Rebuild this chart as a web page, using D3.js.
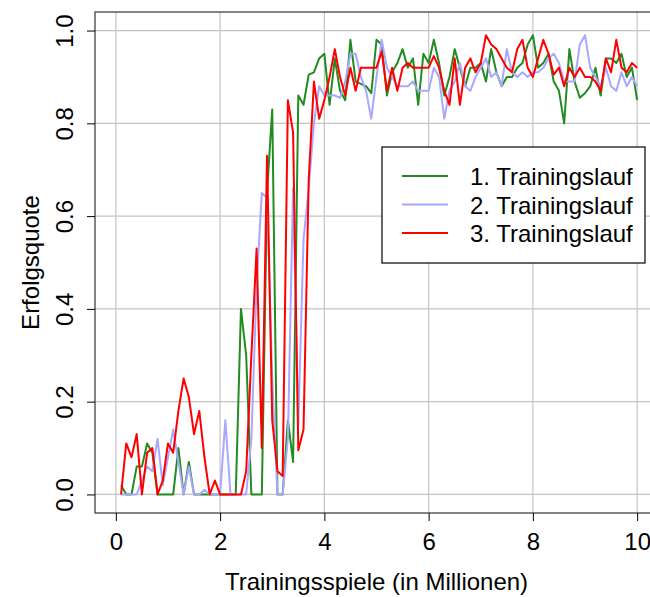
<!DOCTYPE html>
<html>
<head>
<meta charset="utf-8">
<script src="https://cdn.jsdelivr.net/npm/d3@7"></script>
<style>
  html, body { margin: 0; padding: 0; background: #fff; }
  svg { display: block; font-family: "Liberation Sans", Arial, sans-serif; }
</style>
</head>
<body>
<svg id="chart" width="650" height="597"></svg>
<script>
// ---- data ----
const xValues = d3.range(1, 101).map(i => i / 10); // 0.1 ... 10.0 (Millionen)

const run1 = [0.02,0,0,0.06,0.06,0.11,0.09,0,0,0,
  0,0.10,0,0.07,0,0,0,0,0,0,
  0,0,0,0.40,0.30,0,0,0,0.65,0.83,
  0,0,0.16,0.07,0.86,0.84,0.905,0.91,0.94,0.95,
  0.84,0.94,0.87,0.85,0.98,0.89,0.885,0.88,0.865,0.98,
  0.97,0.86,0.91,0.93,0.96,0.92,0.94,0.84,0.95,0.93,
  0.98,0.93,0.86,0.90,0.96,0.92,0.88,0.92,0.92,0.93,
  0.89,0.96,0.91,0.88,0.90,0.90,0.92,0.93,0.97,0.99,
  0.92,0.93,0.95,0.89,0.87,0.80,0.96,0.89,0.855,0.865,
  0.88,0.92,0.86,0.94,0.94,0.93,0.95,0.90,0.92,0.85];

const run2 = [0,0,0,0,0.03,0.06,0.05,0.12,0.02,0.08,
  0.14,0.07,0,0.06,0,0,0.01,0,0,0,
  0.16,0,0,0,0,0.12,0.45,0.65,0.64,0.25,
  0,0,0.12,0.66,0.15,0.55,0.66,0.80,0.88,0.86,
  0.86,0.86,0.855,0.89,0.95,0.95,0.90,0.87,0.81,0.90,
  0.98,0.92,0.90,0.88,0.88,0.88,0.89,0.87,0.87,0.87,
  0.92,0.90,0.81,0.87,0.89,0.93,0.88,0.87,0.90,0.92,
  0.94,0.90,0.91,0.88,0.96,0.91,0.90,0.91,0.90,0.91,
  0.91,0.92,0.94,0.95,0.93,0.89,0.89,0.89,0.97,0.99,
  0.92,0.90,0.88,0.92,0.88,0.87,0.91,0.88,0.90,0.88];

const run3 = [0,0.11,0.08,0.13,0,0.09,0.10,0,0.03,0.11,
  0.09,0.18,0.25,0.21,0.13,0.18,0.08,0,0.03,0,
  0,0,0,0,0.05,0.30,0.53,0.10,0.73,0.16,
  0.05,0.04,0.85,0.78,0.095,0.14,0.68,0.89,0.81,0.85,
  0.90,0.96,0.90,0.86,0.92,0.87,0.92,0.92,0.92,0.92,
  0.955,0.87,0.92,0.87,0.92,0.93,0.92,0.92,0.92,0.92,
  0.945,0.92,0.87,0.84,0.94,0.84,0.92,0.94,0.91,0.93,
  0.99,0.97,0.96,0.94,0.92,0.91,0.96,0.98,0.92,0.90,
  0.94,0.98,0.95,0.905,0.92,0.88,0.92,0.90,0.92,0.90,
  0.90,0.89,0.87,0.94,0.91,0.98,0.92,0.91,0.93,0.92];

const seriesNames = ["1. Trainingslauf", "2. Trainingslauf", "3. Trainingslauf"];
const seriesColors = ["#228B22", "#a8a8ff", "#ff0000"];
const xTicks = [0, 2, 4, 6, 8, 10];
const yTicks = [0, 0.2, 0.4, 0.6, 0.8, 1.0];
const xTitle = "Trainingsspiele (in Millionen)";
const yTitle = "Erfolgsquote";

// ---- chart ----
const FS = 24;
const svg = d3.select("#chart");
const L = 95, R = 658, T = 12, B = 513;
const x = d3.scaleLinear().domain([-0.4, 10.4]).range([L, R]);
const y = d3.scaleLinear().domain([-0.04, 1.04]).range([B, T]);

// grid
const grid = svg.append("g").attr("stroke", "#c4c4c4").attr("stroke-width", 1.2);
grid.selectAll("line.v").data(xTicks).join("line")
  .attr("x1", d => x(d)).attr("x2", d => x(d)).attr("y1", T).attr("y2", B);
grid.selectAll("line.h").data(yTicks).join("line")
  .attr("y1", d => y(d)).attr("y2", d => y(d)).attr("x1", L).attr("x2", R);

// lines
const runs = [run1, run2, run3];
const line = d3.line().x((d, i) => x(xValues[i])).y(d => y(d));
svg.append("g").selectAll("path").data(runs).join("path")
  .attr("d", d => line(d))
  .attr("fill", "none")
  .attr("stroke", (d, i) => seriesColors[i])
  .attr("stroke-width", 2)
  .attr("stroke-linejoin", "round");

// box
svg.append("rect").attr("x", L).attr("y", T).attr("width", R - L).attr("height", B - T)
  .attr("fill", "none").attr("stroke", "#333").attr("stroke-width", 1.2);

// x axis
const xAxis = svg.append("g").attr("transform", `translate(0,${B})`)
  .call(d3.axisBottom(x).tickValues(xTicks).tickSize(8).tickPadding(12).tickFormat(d3.format("d")));
xAxis.select(".domain").remove();
xAxis.selectAll("line").attr("stroke", "#000");
xAxis.selectAll("text").attr("font-size", FS).attr("fill", "#000")
  .attr("font-family", "Liberation Sans, Arial, sans-serif");

// y axis
const yAxis = svg.append("g").attr("transform", `translate(${L},0)`)
  .call(d3.axisLeft(y).tickValues(yTicks).tickSize(8).tickFormat(d3.format(".1f")));
yAxis.select(".domain").remove();
yAxis.selectAll("line").attr("stroke", "#000");
yAxis.selectAll("text")
  .attr("font-size", FS).attr("fill", "#000")
  .attr("font-family", "Liberation Sans, Arial, sans-serif")
  .attr("x", null).attr("dy", null)
  .attr("text-anchor", "middle")
  .attr("transform", "translate(-22,0) rotate(-90)")
  .attr("y", 0);

// titles
svg.append("text").attr("x", (x(0) + x(10)) / 2).attr("y", 590)
  .attr("text-anchor", "middle").attr("font-size", FS).text(xTitle);
svg.append("text").attr("transform", `translate(39,${(y(0) + y(1)) / 2}) rotate(-90)`)
  .attr("text-anchor", "middle").attr("font-size", FS).text(yTitle);

// legend
const lg = svg.append("g");
lg.append("rect").attr("x", 382).attr("y", 147).attr("width", 263).attr("height", 116)
  .attr("fill", "#fff").attr("stroke", "#000").attr("stroke-width", 1.2);
const rowsY = [176, 204.5, 233];
seriesNames.forEach((name, i) => {
  lg.append("line").attr("x1", 402).attr("x2", 448).attr("y1", rowsY[i]).attr("y2", rowsY[i])
    .attr("stroke", seriesColors[i]).attr("stroke-width", 2);
  lg.append("text").attr("x", 470).attr("y", rowsY[i] + 9).attr("font-size", FS).text(name);
});
</script>
</body>
</html>
